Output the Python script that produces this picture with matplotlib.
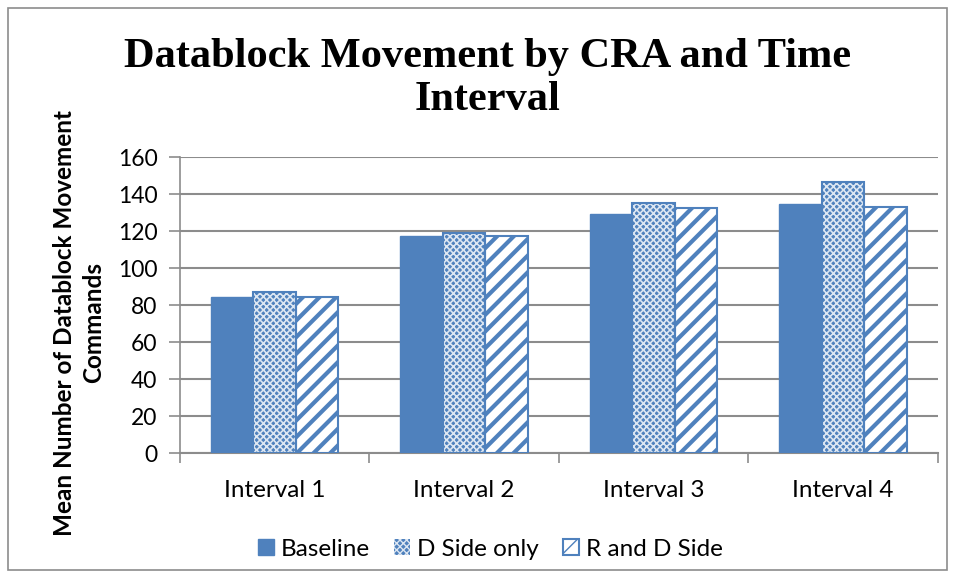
import matplotlib
matplotlib.use('Agg')
import matplotlib.pyplot as plt
from matplotlib.patches import Patch
import numpy as np

intervals = ['Interval 1', 'Interval 2', 'Interval 3', 'Interval 4']
baseline = [84.5, 117.3, 129.5, 134.8]
d_side = [87.0, 118.9, 135.5, 146.5]
r_and_d = [84.5, 117.3, 132.6, 133.3]

blue = '#4F81BD'
grid_grey = '#8C8C8C'

plt.rcParams['font.family'] = ['Lato', 'DejaVu Sans']

fig = plt.figure(figsize=(9.56, 5.78), dpi=100)
ax = fig.add_axes([0.188, 0.216, 0.793, 0.512])

# outer frame
fig.add_artist(plt.Rectangle((8 / 956, 8 / 578), 939 / 956, 562 / 578,
                             transform=fig.transFigure, fill=False,
                             edgecolor='#8C8C8C', linewidth=1.2))

x = np.arange(len(intervals))
w = 0.224

ax.bar(x - w, baseline, w, color=blue, edgecolor=blue, linewidth=1, zorder=3)

with plt.rc_context({'hatch.linewidth': 1.2}):
    b2 = ax.bar(x, d_side, w, color=blue, edgecolor='#DCE6F2', linewidth=0,
                hatch='xxxxx', zorder=3)
ax.bar(x, d_side, w, color='none', edgecolor=blue, linewidth=1.5, zorder=4)

with plt.rc_context({'hatch.linewidth': 3.0}):
    b3 = ax.bar(x + w, r_and_d, w, color='white', edgecolor=blue, linewidth=1.5,
                hatch='//', zorder=3)

ax.set_ylim(0, 160)
ax.set_xlim(-0.5, 3.5)
ax.set_yticks(np.arange(0, 161, 20))
ax.yaxis.grid(True, color=grid_grey, linewidth=1.5, zorder=0)
ax.set_axisbelow(True)

for side in ['top', 'right']:
    ax.spines[side].set_visible(False)
ax.spines['left'].set_color(grid_grey)
ax.spines['bottom'].set_color(grid_grey)
ax.spines['left'].set_linewidth(1.2)
ax.spines['bottom'].set_linewidth(1.5)

ax.set_xticks(x)
ax.set_xticklabels(intervals, fontsize=17.5)
ax.set_xticks(np.arange(-0.5, 4, 1), minor=True)
ax.tick_params(axis='x', which='major', length=0, pad=19)
ax.tick_params(axis='x', which='minor', length=7, color=grid_grey, width=1.2)
ax.tick_params(axis='y', length=8, color=grid_grey, width=1.2, labelsize=16.5,
               pad=8)

ax.set_ylabel('Mean Number of Datablock Movement\nCommands', fontsize=17.5,
              fontweight='bold', linespacing=1.35)
ax.yaxis.set_label_coords(-0.098, 0.44)

fig.suptitle('Datablock Movement by CRA and Time\nInterval',
             family=['Liberation Serif', 'DejaVu Serif'], fontweight='bold',
             fontsize=30.5, y=0.935, x=0.51, linespacing=1.2)

handles = [Patch(facecolor=blue, edgecolor=blue), b2[0], b3[0]]
leg = ax.legend(handles, ['Baseline', 'D Side only', 'R and D Side'],
                loc='upper center', bbox_to_anchor=(0.41, -0.215), ncol=3,
                frameon=False, fontsize=17.5, handlelength=0.65,
                handleheight=0.65, columnspacing=1.0, handletextpad=0.3)

fig.savefig('out.png', dpi=100)
